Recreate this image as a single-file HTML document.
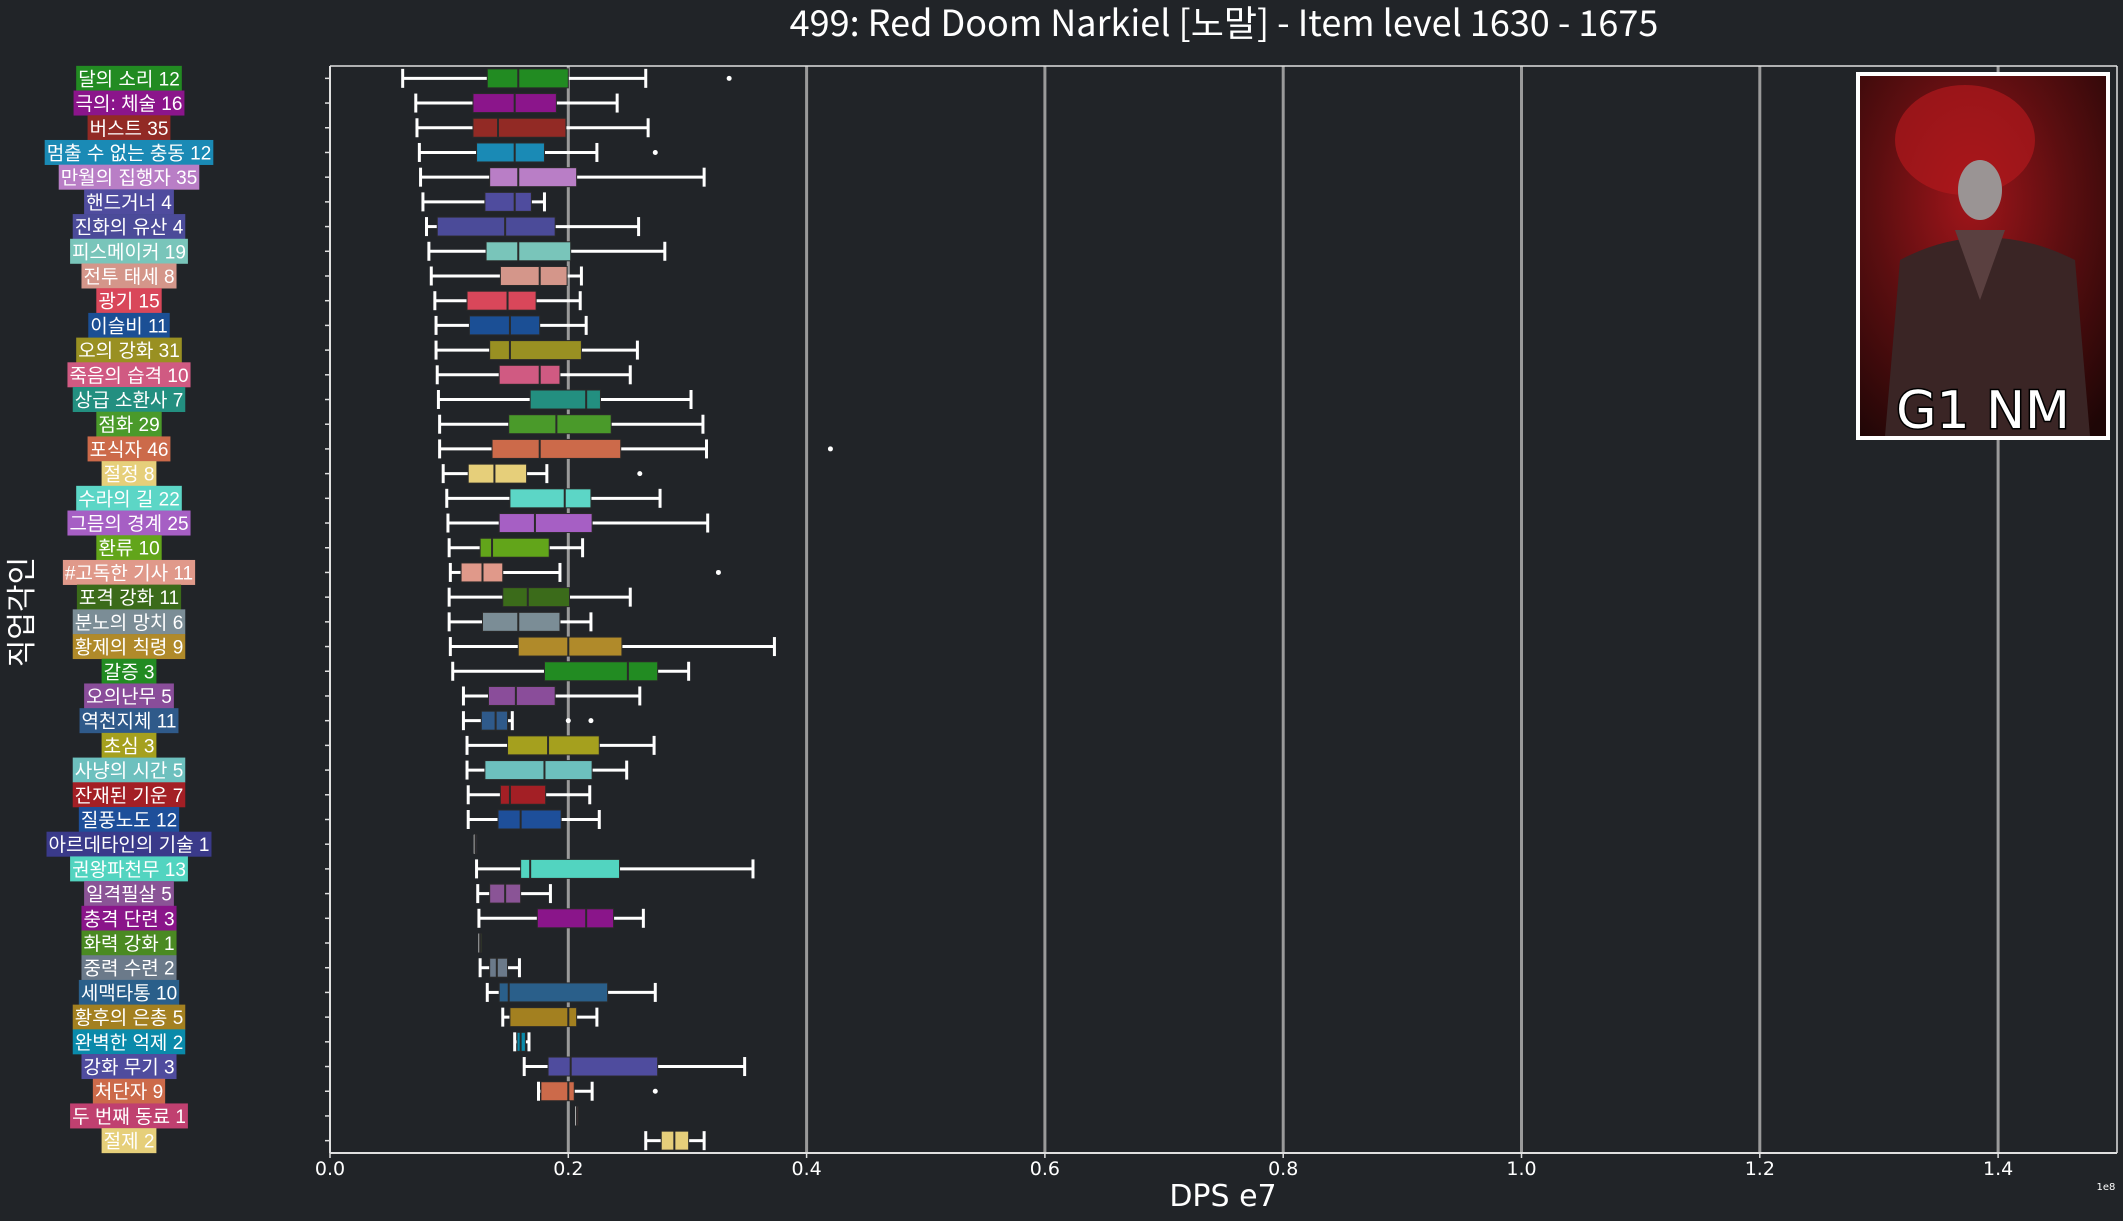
<!DOCTYPE html>
<html><head><meta charset="utf-8"><style>
html,body{margin:0;padding:0;background:#212428;}
svg{display:block;}
text{font-family:"DejaVu Sans","Liberation Sans","Noto Sans CJK KR",sans-serif;}
.kr{font-family:"Liberation Sans","Noto Sans CJK KR",sans-serif;}
.tt{font-family:"Noto Sans CJK KR","Liberation Sans",sans-serif;}
</style></head><body>
<svg id="chart" width="2123" height="1221" viewBox="0 0 2123 1221">
<rect x="0" y="0" width="2123" height="1221" fill="#212428"/>
<text x="1224" y="36" text-anchor="middle" font-size="36" fill="#ffffff" class="tt">499: Red Doom Narkiel [노말] - Item level 1630 - 1675</text>
<g id="grid"></g>
<g id="marks"></g>
<g id="ylabels"></g>
<line x1="330" y1="66" x2="330" y2="1153" stroke="#e0e0e0" stroke-width="2"/>
<line x1="330" y1="1153" x2="2117" y2="1153" stroke="#e0e0e0" stroke-width="2"/>
<line x1="330" y1="66" x2="2117" y2="66" stroke="#e0e0e0" stroke-width="1.5"/>
<line x1="2117" y1="66" x2="2117" y2="1153" stroke="#e0e0e0" stroke-width="1.5"/>
<g id="xticks"></g>
<text x="1223" y="1206" text-anchor="middle" font-size="30" fill="#ffffff">DPS e7</text>
<text x="2106" y="1190" text-anchor="middle" font-size="10" fill="#ffffff">1e8</text>
<text x="0" y="0" transform="translate(32,612) rotate(-90)" text-anchor="middle" font-size="30" fill="#ffffff" class="kr">직업각인</text>
<g>
<defs>
<radialGradient id="bg1" cx="0.45" cy="0.35" r="0.8">
<stop offset="0" stop-color="#a0151a"/><stop offset="0.5" stop-color="#5a0e10"/><stop offset="1" stop-color="#1e0606"/>
</radialGradient>
</defs>
<rect x="1856" y="72" width="254" height="368" fill="#ffffff"/>
<rect x="1860" y="76" width="246" height="360" fill="url(#bg1)"/>
<ellipse cx="1965" cy="140" rx="70" ry="55" fill="#b0181c" opacity="0.7"/>
<ellipse cx="1980" cy="190" rx="22" ry="30" fill="#9a9494"/>
<path d="M1900 260 Q1985 215 2075 260 L2090 436 L1885 436 Z" fill="#3a2525"/>
<path d="M1955 230 L1980 300 L2005 230 Z" fill="#5a4040"/>
<text x="1983" y="428" text-anchor="middle" font-size="52" fill="#ffffff" stroke="#000000" stroke-width="3" paint-order="stroke">G1 NM</text>
</g>
</svg>
<script>
const categories = ["달의 소리 12","극의: 체술 16","버스트 35","멈출 수 없는 충동 12","만월의 집행자 35","핸드거너 4","진화의 유산 4","피스메이커 19","전투 태세 8","광기 15","이슬비 11","오의 강화 31","죽음의 습격 10","상급 소환사 7","점화 29","포식자 46","절정 8","수라의 길 22","그믐의 경계 25","환류 10","#고독한 기사 11","포격 강화 11","분노의 망치 6","황제의 칙령 9","갈증 3","오의난무 5","역천지체 11","초심 3","사냥의 시간 5","잔재된 기운 7","질풍노도 12","아르데타인의 기술 1","권왕파천무 13","일격필살 5","충격 단련 3","화력 강화 1","중력 수련 2","세맥타통 10","황후의 은총 5","완벽한 억제 2","강화 무기 3","처단자 9","두 번째 동료 1","절제 2"];
const whiskerLow = [0.061,0.072,0.073,0.075,0.076,0.078,0.081,0.083,0.085,0.088,0.089,0.089,0.090,0.091,0.092,0.092,0.095,0.098,0.099,0.100,0.101,0.100,0.100,0.101,0.103,0.112,0.112,0.115,0.115,0.116,0.116,0.122,0.123,0.124,0.125,0.126,0.126,0.132,0.145,0.155,0.163,0.175,0.207,0.265];
const q1 = [0.132,0.120,0.120,0.123,0.134,0.130,0.090,0.131,0.143,0.115,0.117,0.134,0.142,0.168,0.150,0.136,0.116,0.151,0.142,0.126,0.110,0.145,0.128,0.158,0.180,0.133,0.127,0.149,0.130,0.143,0.141,0.122,0.160,0.134,0.174,0.126,0.134,0.142,0.151,0.157,0.183,0.177,0.207,0.278];
const medians = [0.158,0.155,0.141,0.155,0.158,0.155,0.147,0.158,0.176,0.149,0.151,0.151,0.176,0.215,0.190,0.176,0.138,0.197,0.172,0.136,0.128,0.166,0.158,0.200,0.250,0.156,0.139,0.183,0.180,0.151,0.160,0.122,0.168,0.147,0.215,0.126,0.140,0.150,0.200,0.160,0.202,0.200,0.207,0.289];
const q3 = [0.200,0.190,0.198,0.180,0.207,0.169,0.189,0.202,0.199,0.173,0.176,0.211,0.193,0.227,0.236,0.244,0.165,0.219,0.220,0.184,0.145,0.201,0.193,0.245,0.275,0.189,0.149,0.226,0.220,0.181,0.194,0.122,0.243,0.160,0.238,0.126,0.149,0.233,0.207,0.164,0.275,0.205,0.207,0.301];
const whiskerHigh = [0.265,0.241,0.267,0.224,0.314,0.180,0.259,0.281,0.211,0.210,0.215,0.258,0.252,0.303,0.313,0.316,0.182,0.277,0.317,0.212,0.193,0.252,0.219,0.373,0.301,0.260,0.153,0.272,0.249,0.218,0.226,0.122,0.355,0.185,0.263,0.126,0.159,0.273,0.224,0.167,0.348,0.220,0.207,0.314];
const outliers = [[0.335],[],[],[0.273],[],[],[],[],[],[],[],[],[],[],[],[0.420],[0.260],[],[],[],[0.326],[],[],[],[],[],[0.200,0.219],[],[],[],[],[],[],[],[],[],[],[],[],[],[],[0.273],[],[]];
const colors = ["#228b22","#8b158b","#922a25","#1a8ab5","#b97ec6","#4f4c9e","#4b4b99","#79c5ba","#d4968a","#d9475a","#1b4f95","#999022","#d05a82","#238f80","#4a9a2a","#cc6a4a","#e6cf7a","#5cd6c6","#a65fc4","#62a51a","#e0998a","#3b6b1a","#7b8d96","#b08a2a","#228b22","#8a4d9a","#2f5a8a","#a5a01e","#6dc0be","#a31f25","#1e4f9a","#3a3a8a","#52d4c0","#8a5496","#8a158a","#4a8a22","#6b7a8a","#2a5f8a","#a38020","#0a8aaa","#4f4c9e","#cc6a4a","#c04070","#e6cf7a"];
const xTicks = [0,0.2,0.4,0.6,0.8,1.0,1.2,1.4];
const xTickLabels = ["0.0","0.2","0.4","0.6","0.8","1.0","1.2","1.4"];

const NS = "http://www.w3.org/2000/svg";
const plotTop = 66, plotBottom = 1153;
const rowH = (plotBottom - plotTop) / categories.length;
function x(v){ return 330 + v * 1191.5; }
function y(i){ return plotTop + (i + 0.5) * rowH; }
function mk(tag, attrs, parent){ const e = document.createElementNS(NS, tag); for (const k in attrs) e.setAttribute(k, attrs[k]); parent.appendChild(e); return e; }

const grid = document.getElementById('grid');
const xt = document.getElementById('xticks');
xTicks.forEach((t, k) => {
  if (t > 0) {
    const g = mk('line', {x1:x(t), y1:plotTop, x2:x(t), y2:plotBottom, stroke:'#9a9a9a', 'stroke-width':3}, grid);
    
    
  }
  const tk = mk('line', {x1:x(t), y1:plotBottom, x2:x(t), y2:plotBottom+5, stroke:'#e0e0e0', 'stroke-width':1.5}, xt);
  
  
  const tl = mk('text', {x:x(t), y:1175, 'text-anchor':'middle', 'font-size':19, fill:'#ffffff'}, xt);
  tl.textContent = xTickLabels[k];
  
  
});

const marks = document.getElementById('marks');
const yl = document.getElementById('ylabels');
const bh = 19;
categories.forEach((c, i) => {
  const cy = y(i);
  const g = mk('g', {}, marks);
  
  
  mk('line', {x1:x(whiskerLow[i]), y1:cy, x2:x(q1[i]), y2:cy, stroke:'#ffffff', 'stroke-width':3}, g);
  mk('line', {x1:x(q3[i]), y1:cy, x2:x(whiskerHigh[i]), y2:cy, stroke:'#ffffff', 'stroke-width':3}, g);
  mk('line', {x1:x(whiskerLow[i]), y1:cy-bh/2, x2:x(whiskerLow[i]), y2:cy+bh/2, stroke:'#ffffff', 'stroke-width':3}, g);
  mk('line', {x1:x(whiskerHigh[i]), y1:cy-bh/2, x2:x(whiskerHigh[i]), y2:cy+bh/2, stroke:'#ffffff', 'stroke-width':3}, g);
  const w = Math.max(x(q3[i]) - x(q1[i]), 1.5);
  mk('rect', {x:x(q1[i]), y:cy-bh/2, width:w, height:bh, fill:colors[i], stroke:'#2a2a2a', 'stroke-width':1}, g);
  mk('line', {x1:x(medians[i]), y1:cy-bh/2, x2:x(medians[i]), y2:cy+bh/2, stroke:'#2a2a2a', 'stroke-width':2}, g);
  outliers[i].forEach(o => {
    const d = mk('circle', {cx:x(o), cy:cy, r:2.5, fill:'#ffffff'}, g);
    
    
  });
  const tk = mk('line', {x1:325, y1:cy, x2:330, y2:cy, stroke:'#e0e0e0', 'stroke-width':1.5}, yl);
  
  
  const lg = mk('g', {}, yl);
  
  
  const bg = mk('rect', {y:cy-12.5, height:25, fill:colors[i]}, lg);
  const t = mk('text', {x:129, y:cy+7, 'text-anchor':'middle', 'font-size':19, fill:'#ffffff', class:'kr'}, lg);
  t.textContent = c;
  const tw = t.getComputedTextLength();
  bg.setAttribute('x', 129 - tw/2 - 2);
  bg.setAttribute('width', tw + 4);
});
</script>
</body></html>
